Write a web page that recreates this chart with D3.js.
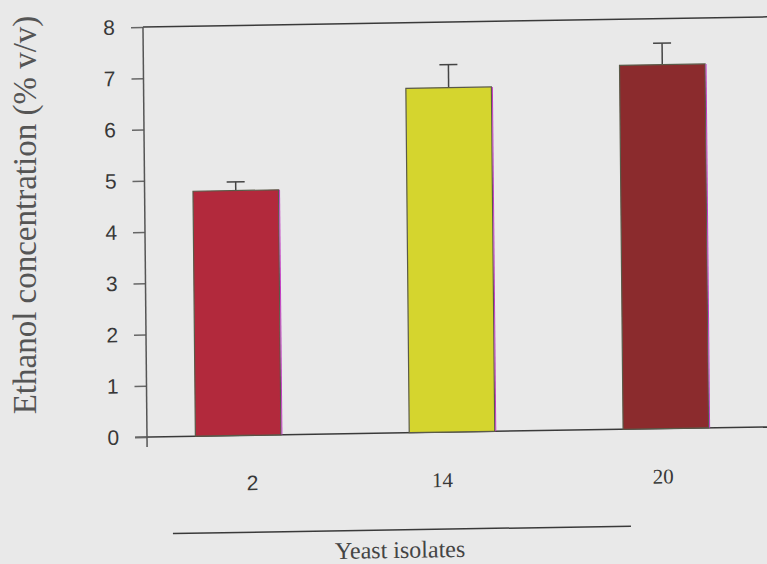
<!DOCTYPE html>
<html>
<head>
<meta charset="utf-8">
<script src="https://cdn.jsdelivr.net/npm/d3@7"></script>
<style>
  html, body { margin: 0; padding: 0; background: #e9e9e9; }
  svg { display: block; }
</style>
</head>
<body>
<svg id="chart" width="767" height="564"></svg>
<script>
// isolates and their mean ethanol yield (% v/v) with error bar (+SD)
let isolates = ["2", "14", "20"];
let ethanol = [4.78, 6.72, 7.1];
let errors = [0.17, 0.45, 0.42];
let yTicks = [0, 1, 2, 3, 4, 5, 6, 7, 8];
let barColors = ["#b2293c", "#d5d52e", "#8b2b2d"];

let svg = d3.select("svg#chart"),
    origin = {x: 147, y: 437},
    plotTop = 27;

// the scanned figure sits slightly skewed on the page
let g = svg.append("g")
    .attr("transform", "translate(" + origin.x + "," + origin.y + ") matrix(1,-0.0163,0.0098,1,0,0) translate(" + (-origin.x) + "," + (-origin.y) + ")");

let x = d3.scaleBand()
    .domain(isolates)
    .range([174, 730])
    .paddingInner(0.6)
    .paddingOuter(0.1);
let y = d3.scaleLinear()
    .domain([0, 8])
    .range([origin.y, plotTop]);

let ink = "#3a3a3a";

// frame: top line, left axis, bottom baseline
g.append("line")
    .attr("x1", origin.x).attr("x2", 800)
    .attr("y1", y(8)).attr("y2", y(8))
    .attr("stroke", ink).attr("stroke-width", 1.5);
g.append("line")
    .attr("x1", 135).attr("x2", 800)
    .attr("y1", y(0)).attr("y2", y(0))
    .attr("stroke", ink).attr("stroke-width", 1.5);

let yAxis = g.append("g")
    .attr("transform", "translate(" + origin.x + ",0)")
    .call(d3.axisLeft(y).tickValues(yTicks).tickSize(12).tickPadding(16));
yAxis.select(".domain").remove();
yAxis.append("line")
    .attr("y1", y(8)).attr("y2", y(0) + 10)
    .attr("stroke", "#555").attr("stroke-width", 1.5);
yAxis.selectAll(".tick line").attr("stroke", "#666").attr("stroke-width", 1.5);
yAxis.selectAll(".tick text")
    .attr("fill", "#383838")
    .style("font-family", "'Liberation Sans', Arial, sans-serif")
    .style("font-size", "21px");

// bars
let bars = g.selectAll("g.bar")
    .data(isolates)
    .enter().append("g")
    .attr("class", "bar");

bars.append("line")
    .attr("x1", function(d) { return x(d) + x.bandwidth() / 2; })
    .attr("x2", function(d) { return x(d) + x.bandwidth() / 2; })
    .attr("y1", function(d, i) { return y(ethanol[i]); })
    .attr("y2", function(d, i) { return y(ethanol[i] + errors[i]); })
    .attr("stroke", "#444").attr("stroke-width", 1.5);
bars.append("line")
    .attr("x1", function(d) { return x(d) + x.bandwidth() / 2 - 9; })
    .attr("x2", function(d) { return x(d) + x.bandwidth() / 2 + 9; })
    .attr("y1", function(d, i) { return y(ethanol[i] + errors[i]); })
    .attr("y2", function(d, i) { return y(ethanol[i] + errors[i]); })
    .attr("stroke", "#444").attr("stroke-width", 1.5);

bars.append("rect")
    .attr("x", function(d) { return x(d); })
    .attr("width", x.bandwidth())
    .attr("y", function(d, i) { return y(ethanol[i]); })
    .attr("height", function(d, i) { return y(0) - y(ethanol[i]); })
    .attr("fill", function(d, i) { return barColors[i]; })
    .attr("stroke", "#5a5a48").attr("stroke-width", 1.2);
// magenta fringe on the right edge from the scan
bars.append("line")
    .attr("x1", function(d) { return x(d) + x.bandwidth() + 1; })
    .attr("x2", function(d) { return x(d) + x.bandwidth() + 1; })
    .attr("y1", function(d, i) { return y(ethanol[i]); })
    .attr("y2", y(0))
    .attr("stroke", "#c23cc4").attr("stroke-width", 1);

// category labels (printed a little off the bar centres in the original)
function labelNudge(i) { return i === 0 ? 14 : (i === 1 ? -10 : -3); }
g.selectAll("text.xlab")
    .data(isolates)
    .enter().append("text")
    .attr("class", "xlab")
    .attr("x", function(d, i) { return x(d) + x.bandwidth() / 2 + labelNudge(i); })
    .attr("y", origin.y + 55)
    .attr("text-anchor", "middle")
    .attr("fill", "#383838")
    .style("font-family", function(d, i) {
        return i === 0 ? "'Liberation Sans', Arial, sans-serif" : "'Liberation Serif', 'Times New Roman', serif";
    })
    .style("font-size", "21px")
    .text(function(d) { return d; });

// underline and axis title
g.append("line")
    .attr("x1", 172).attr("x2", 630)
    .attr("y1", origin.y + 97).attr("y2", origin.y + 97)
    .attr("stroke", ink).attr("stroke-width", 1.5);
g.append("text")
    .attr("x", 399)
    .attr("y", origin.y + 125)
    .attr("text-anchor", "middle")
    .attr("fill", "#444")
    .style("font-family", "'Liberation Serif', 'Times New Roman', serif")
    .style("font-size", "24px")
    .text("Yeast isolates");

svg.append("text")
    .attr("transform", "translate(36,215) rotate(-90)")
    .attr("text-anchor", "middle")
    .attr("fill", "#555")
    .style("font-family", "'Liberation Serif', 'Times New Roman', serif")
    .style("font-size", "33px")
    .text("Ethanol concentration (% v/v)");
</script>
</body>
</html>
